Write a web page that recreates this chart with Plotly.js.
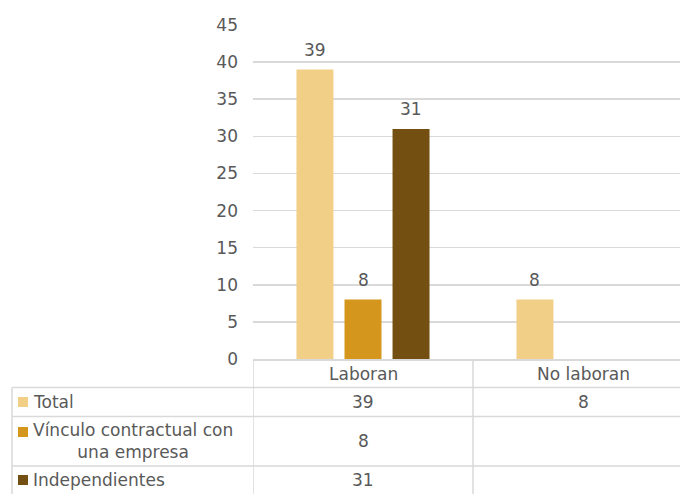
<!DOCTYPE html>
<html>
<head>
<meta charset="utf-8">
<script src="https://cdn.plot.ly/plotly-3.0.1.min.js"></script>
<style>html,body{margin:0;padding:0;background:#fff;}#chart{width:680px;height:494px;}</style>
</head>
<body>
<div id="chart"></div>
<script>
// ---- data ----
const categories = ['Laboran', 'No laboran'];
const seriesNames = ['Total', 'Vínculo contractual con<br>una empresa', 'Independientes'];
const total = [39, 8];
const vinculo = [8, null];
const independientes = [31, null];
const yTickVals = [0, 5, 10, 15, 20, 25, 30, 35, 40, 45];
const colors = ['#F2CF87', '#D4961D', '#735011'];

// ---- layout constants ----
const W = 680, H = 494;
const M = {l: 253, r: 0, t: 25, b: 135};
const plotH = H - M.t - M.b;
const plotW = W - M.l - M.r;
const bargap = 0.345, bargroupgap = 0.23;
const font = '"DejaVu Sans", sans-serif';
const fsize = 17;
const txtColor = '#595959';
const lineColor = '#D9D9D9';
const catPx = 220; // pixels per category
const xMax = -0.5 + plotW / catPx;

function yp(pix) { return (H - M.b - pix) / plotH; }
function xp(pix) { return (pix - M.l) / plotW; }

const series = [total, vinculo, independientes];
const traces = series.map((vals, i) => ({
  type: 'bar',
  x: categories,
  y: vals,
  name: seriesNames[i],
  marker: {color: colors[i]},
  hoverinfo: 'none'
}));

const annotations = [];
const shapes = [];
const slot = (1 - bargap) / series.length;

// value labels above bars
series.forEach((vals, i) => {
  vals.forEach((v, j) => {
    if (v === null) return;
    annotations.push({
      x: j + (i - (series.length - 1) / 2) * slot, y: v, xref: 'x', yref: 'y',
      text: String(v), showarrow: false, yshift: 19.5, yanchor: 'middle',
      font: {family: font, size: fsize, color: txtColor}
    });
  });
});

// ---- data table ----
const headerY = 374;
const rowCenters = [402, 441, 480];
const rowKeyY = [402, 432, 480];
const hLines = [387.5, 416.5, 466];

[-0.5, 0.5, 1.5].forEach(xv => {
  shapes.push({type: 'line', xref: 'x', yref: 'paper', x0: xv, x1: xv,
    y0: yp(360), y1: yp(H), line: {color: lineColor, width: 1.5}});
});
shapes.push({type: 'line', xref: 'paper', yref: 'paper', x0: xp(12), x1: xp(12),
  y0: yp(387.5), y1: yp(H), line: {color: lineColor, width: 1.5}});
hLines.forEach(py => {
  shapes.push({type: 'line', xref: 'paper', yref: 'paper', x0: xp(12), x1: 1,
    y0: yp(py), y1: yp(py), line: {color: lineColor, width: 1.5}});
});

categories.forEach((c, j) => {
  annotations.push({x: j, y: yp(headerY), xref: 'x', yref: 'paper', text: c,
    showarrow: false, yanchor: 'middle', font: {family: font, size: fsize, color: txtColor}});
});

series.forEach((vals, i) => {
  shapes.push({type: 'rect', xref: 'paper', yref: 'paper',
    x0: xp(18), x1: xp(28), y0: yp(rowKeyY[i] - 5), y1: yp(rowKeyY[i] + 5),
    fillcolor: colors[i], line: {width: 0}});
  annotations.push({x: xp(31), y: yp(rowCenters[i]), xref: 'paper', yref: 'paper',
    text: seriesNames[i], showarrow: false, xanchor: 'left', yanchor: 'middle', align: 'center',
    font: {family: font, size: fsize, color: txtColor}});
  vals.forEach((v, j) => {
    if (v === null) return;
    annotations.push({x: j, y: yp(rowCenters[i]), xref: 'x', yref: 'paper', text: String(v),
      showarrow: false, yanchor: 'middle', font: {family: font, size: fsize, color: txtColor}});
  });
});

const layout = {
  width: W, height: H,
  margin: M,
  paper_bgcolor: '#fff', plot_bgcolor: '#fff',
  barmode: 'group', bargap: bargap, bargroupgap: bargroupgap,
  showlegend: false,
  font: {family: font, color: txtColor},
  xaxis: {type: 'category', range: [-0.5, xMax], showticklabels: false, ticks: '',
    showgrid: false, zeroline: false, showline: true, linecolor: lineColor, linewidth: 1.5, fixedrange: true},
  yaxis: {range: [0, 45], tickvals: yTickVals, showgrid: true, gridcolor: lineColor, gridwidth: 1.5,
    zeroline: false, showline: false, ticks: '', ticklabelstandoff: 14,
    tickfont: {family: font, size: fsize, color: txtColor}, fixedrange: true},
  annotations: annotations,
  shapes: shapes
};

Plotly.newPlot('chart', traces, layout, {displayModeBar: false, staticPlot: true});
</script>
</body>
</html>
